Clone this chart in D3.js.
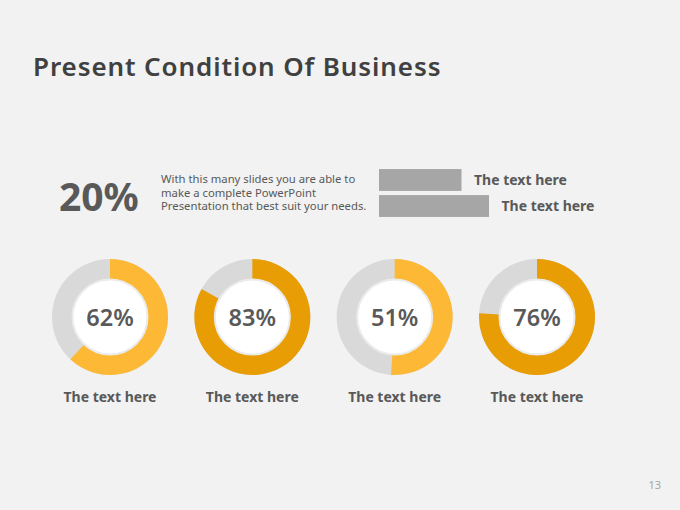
<!DOCTYPE html>
<html>
<head>
<meta charset="utf-8">
<script src="https://cdn.jsdelivr.net/npm/d3@7"></script>
<style>
  body { margin: 0; background: #f1f2f1; }
  svg { display: block; font-family: "Noto Sans", sans-serif; }
</style>
</head>
<body>
<div id="wrapper"></div>
<script>
  // data
  const donutValues = [62, 83, 51, 76]
  const donutLabels = ["The text here", "The text here", "The text here", "The text here"]
  const barValues = [30, 40]
  const barLabels = ["The text here", "The text here"]
  const bigStat = "20%"
  const blurb = [
    "With this many slides you are able to",
    "make a complete PowerPoint",
    "Presentation that best suit your needs."
  ]

  const colors = ["#fdb935", "#e89d04", "#fdb935", "#e89d04"]
  const textColor = "#595959"

  const dimensions = { width: 680, height: 510 }

  const svg = d3.select("#wrapper")
    .append("svg")
    .attr("width", dimensions.width)
    .attr("height", dimensions.height)

  svg.append("rect")
    .attr("width", dimensions.width)
    .attr("height", dimensions.height)
    .attr("fill", "#f1f2f1")

  // title
  svg.append("text")
    .attr("x", 33)
    .attr("y", 76)
    .text("Present Condition Of Business")
    .style("font-size", "26px")
    .style("font-weight", 600)
    .style("letter-spacing", "0.9px")
    .style("fill", "#404040")

  // big stat + blurb
  svg.append("text")
    .attr("x", 59)
    .attr("y", 211)
    .text(bigStat)
    .style("font-size", "39px")
    .style("font-weight", 700)
    .style("fill", textColor)

  svg.append("g")
    .selectAll("text")
    .data(blurb)
    .join("text")
      .attr("x", 161)
      .attr("y", (d, i) => 183 + i * 13.5)
      .text(d => d)
      .style("font-size", "11.3px")
      .style("fill", textColor)

  // bars
  const barScale = d3.scaleLinear()
    .domain([0, 100])
    .range([0, 275])

  const barY = d3.scaleBand()
    .domain(d3.range(barValues.length))
    .range([168, 218])
    .paddingInner(0.16)
    .paddingOuter(0.04)

  const bars = svg.append("g")
    .selectAll("g")
    .data(barValues)
    .join("g")

  bars.append("rect")
    .attr("x", 379)
    .attr("y", (d, i) => barY(i))
    .attr("width", d => barScale(d))
    .attr("height", barY.bandwidth())
    .attr("fill", "#a6a6a6")

  bars.append("text")
    .attr("x", d => 379 + barScale(d) + 12.5)
    .attr("y", (d, i) => barY(i) + barY.bandwidth() / 2 + 5)
    .text((d, i) => barLabels[i])
    .style("font-size", "14px")
    .style("font-weight", 700)
    .style("fill", textColor)

  // donuts
  const xScale = d3.scalePoint()
    .domain(d3.range(donutValues.length))
    .range([110, 537])

  const cy = 317
  const outerR = 58
  const innerR = 38

  const arc = d3.arc()
    .innerRadius(innerR)
    .outerRadius(outerR)

  const donuts = svg.append("g")
    .selectAll("g")
    .data(donutValues)
    .join("g")
      .attr("transform", (d, i) => `translate(${xScale(i)}, ${cy})`)

  donuts.append("path")
    .attr("d", arc({ startAngle: 0, endAngle: 2 * Math.PI }))
    .attr("fill", "#d9d9d9")

  donuts.append("path")
    .attr("d", d => arc({ startAngle: 0, endAngle: 2 * Math.PI * d / 100 }))
    .attr("fill", (d, i) => colors[i])

  donuts.append("circle")
    .attr("r", 37.5)
    .attr("fill", "#ffffff")
    .attr("stroke", "#ebebeb")
    .attr("stroke-width", 2)

  donuts.append("text")
    .attr("text-anchor", "middle")
    .attr("y", 8.5)
    .text(d => d + "%")
    .style("font-size", "23.5px")
    .style("font-weight", 600)
    .style("fill", textColor)

  donuts.append("text")
    .attr("text-anchor", "middle")
    .attr("y", 402 - cy)
    .text((d, i) => donutLabels[i])
    .style("font-size", "14px")
    .style("font-weight", 700)
    .style("fill", textColor)

  // page number
  svg.append("text")
    .attr("x", 661)
    .attr("y", 489)
    .attr("text-anchor", "end")
    .text("13")
    .style("font-size", "11px")
    .style("fill", "#a6a6a6")
</script>
</body>
</html>
